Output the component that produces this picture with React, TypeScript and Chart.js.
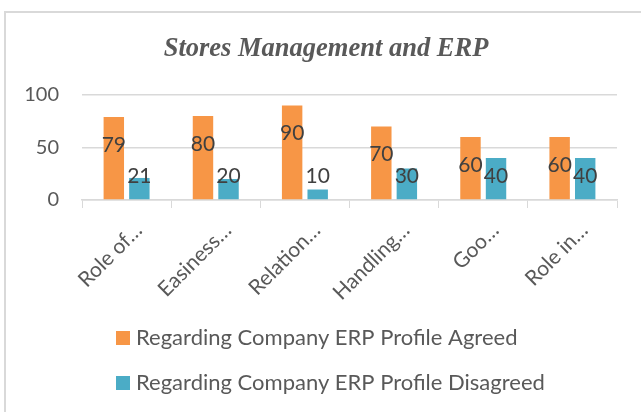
import React, { useEffect, useRef } from "react";
import { Chart, registerables } from "chart.js";

Chart.register(...registerables);

const chartTitle = "Stores Management and ERP";
const categories = ["Role of…", "Easiness…", "Relation…", "Handling…", "Goo…", "Role in…"];
const agreedValues = [79, 80, 90, 70, 60, 60];
const disagreedValues = [21, 20, 10, 30, 40, 40];
const seriesNames = [
  "Regarding Company ERP Profile Agreed",
  "Regarding Company ERP Profile Disagreed",
];
const seriesColors = ["#F79646", "#4BACC6"];
const yMin = 0;
const yMax = 100;
const yStep = 50;

const FONT = "Lato";
const TEXT = "#595959";
const GRID = "#d9d9d9";

const titlePlugin = {
  id: "customTitle",
  afterDraw(chart: any) {
    const ctx = chart.ctx;
    ctx.save();
    ctx.font = "italic bold 26.5px 'Liberation Serif'";
    ctx.fillStyle = TEXT;
    ctx.textAlign = "center";
    ctx.textBaseline = "alphabetic";
    ctx.fillText(chartTitle, 326, 56);
    ctx.restore();
  },
};

const valueLabelPlugin = {
  id: "valueLabels",
  afterDatasetsDraw(chart: any) {
    const ctx = chart.ctx;
    const base = chart.scales.y.getPixelForValue(0);
    ctx.save();
    ctx.font = `21px ${FONT}`;
    ctx.fillStyle = "#404040";
    ctx.textAlign = "center";
    ctx.textBaseline = "middle";
    chart.data.datasets.forEach((ds: any, i: number) => {
      const meta = chart.getDatasetMeta(i);
      meta.data.forEach((bar: any, j: number) => {
        const y = Math.min(bar.y + 28, base - 24);
        ctx.fillText(String(ds.data[j]), bar.x, y);
      });
    });
    ctx.restore();
  },
};

const legendPlugin = {
  id: "stackedLegend",
  afterDraw(chart: any) {
    const ctx = chart.ctx;
    ctx.save();
    ctx.font = `22px ${FONT}`;
    ctx.textBaseline = "middle";
    ctx.textAlign = "left";
    chart.data.datasets.forEach((ds: any, i: number) => {
      const y = 338 + i * 45;
      ctx.fillStyle = ds.backgroundColor;
      ctx.fillRect(116, y - 7, 14, 14);
      ctx.fillStyle = TEXT;
      ctx.fillText(ds.label, 136, y);
    });
    ctx.restore();
  },
};

export default function App() {
  const canvasRef = useRef<HTMLCanvasElement | null>(null);

  useEffect(() => {
    if (!canvasRef.current) return;
    const chart = new Chart(canvasRef.current, {
      type: "bar",
      data: {
        labels: categories,
        datasets: [
          {
            label: seriesNames[0],
            data: agreedValues,
            backgroundColor: seriesColors[0],
            categoryPercentage: 0.573,
            barPercentage: 0.8,
          },
          {
            label: seriesNames[1],
            data: disagreedValues,
            backgroundColor: seriesColors[1],
            categoryPercentage: 0.573,
            barPercentage: 0.8,
          },
        ],
      },
      options: {
        responsive: true,
        maintainAspectRatio: false,
        animation: false,
        layout: { padding: { top: 95, right: 24, left: 0, bottom: 0 } },
        plugins: {
          legend: { display: false },
          title: { display: false },
          tooltip: { enabled: false },
        },
        scales: {
          x: {
            grid: {
              offset: true,
              drawOnChartArea: false,
              tickLength: 8,
              color: GRID,
              lineWidth: 1,
            },
            border: { color: GRID, width: 1.5 },
            ticks: {
              font: { family: FONT, size: 21 },
              color: TEXT,
              maxRotation: 45,
              minRotation: 45,
              padding: 10,
              labelOffset: 12,
              autoSkip: false,
            },
            afterFit: (s: any) => {
              s.height = 212;
            },
          },
          y: {
            min: yMin,
            max: yMax,
            ticks: {
              stepSize: yStep,
              font: { family: FONT, size: 20 },
              color: TEXT,
              padding: 23,
            },
            grid: { color: GRID, lineWidth: 1.5, drawTicks: false },
            border: { display: false },
            afterFit: (s: any) => {
              s.width = 82;
            },
          },
        },
      },
      plugins: [titlePlugin, valueLabelPlugin, legendPlugin],
    });
    return () => chart.destroy();
  }, []);

  return (
    <div
      style={{
        position: "fixed",
        left: 0,
        top: 0,
        width: 641,
        height: 412,
        background: "#ffffff",
        overflow: "hidden",
      }}
    >
      <div
        style={{
          position: "absolute",
          left: 4,
          top: 11,
          width: 700,
          height: 500,
          borderLeft: "2px solid #d9d9d9",
          borderTop: "2px solid #d9d9d9",
        }}
      />
      <canvas ref={canvasRef} style={{ position: "absolute", left: 0, top: 0 }} />
    </div>
  );
}
